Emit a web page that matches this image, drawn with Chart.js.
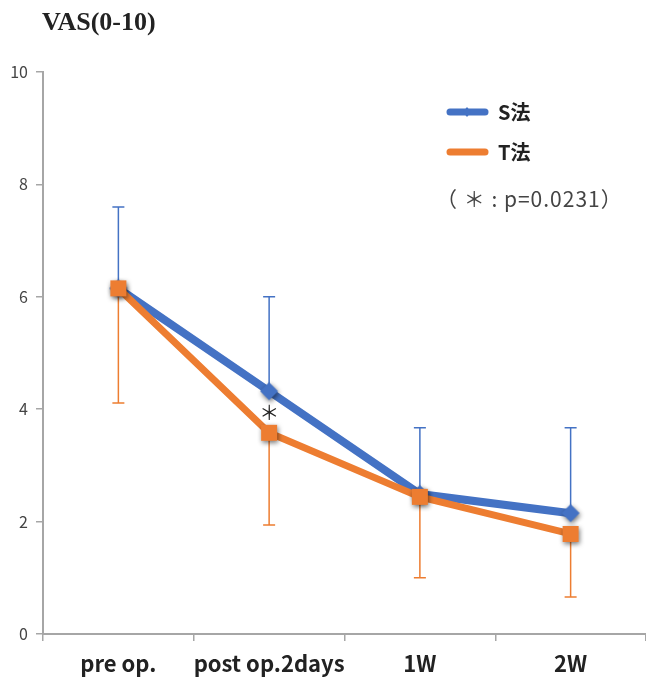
<!DOCTYPE html>
<html lang="ja">
<head>
  <meta charset="UTF-8">
  <title>VAS(0-10)</title>
  <script src="https://cdn.jsdelivr.net/npm/chart.js"></script>
  <style>
    html, body { margin: 0; padding: 0; background: #fff; overflow: hidden; }
    #wrap { width: 646px; height: 677px; position: relative; }
    canvas { display: block; }
  </style>
</head>
<body>
  <div id="wrap"><canvas id="vasChart"></canvas></div>
  <script>
    // データ
    const categories = ['pre op.', 'post op.2days', '1W', '2W'];
    const sValues = [6.15, 4.32, 2.49, 2.15];
    const tValues = [6.15, 3.58, 2.44, 1.78];
    const sUpper = [7.6, 6.0, 3.67, 3.67];   // S法 エラーバー上端
    const tLower = [4.11, 1.94, 1.0, 0.66];  // T法 エラーバー下端
    const seriesNames = ['S法', 'T法'];
    const noteText = '（ ＊ : p=0.0231）';
    const sigIndex = [1];
    const sigValue = [3.95];

    const blue = '#4472C4';
    const orange = '#ED7D31';

    // 影付きマーカー画像
    function makeMarker(shape, color) {
      const size = 34;
      const c = document.createElement('canvas');
      c.width = size; c.height = size;
      const g = c.getContext('2d');
      g.shadowColor = 'rgba(0,0,0,0.55)';
      g.shadowBlur = 5;
      g.shadowOffsetX = 1;
      g.shadowOffsetY = 2;
      g.fillStyle = color;
      const m = size / 2;
      if (shape === 'square') {
        g.fillRect(m - 8, m - 8, 16, 16);
      } else {
        g.beginPath();
        g.moveTo(m, m - 9); g.lineTo(m + 9, m); g.lineTo(m, m + 9); g.lineTo(m - 9, m);
        g.closePath(); g.fill();
      }
      return c;
    }

    // エラーバー・タイトル・凡例を描くプラグイン
    const extras = {
      id: 'extras',
      beforeDatasetsDraw(chart) {
        const ctx = chart.ctx;
        const x = chart.scales.x, y = chart.scales.y;
        const bars = [
          { mean: sValues, end: sUpper, color: blue },
          { mean: tValues, end: tLower, color: orange }
        ];
        ctx.save();
        bars.forEach(b => {
          ctx.strokeStyle = b.color;
          ctx.lineWidth = 1.5;
          b.mean.forEach((v, i) => {
            const px = x.getPixelForValue(i);
            const y0 = y.getPixelForValue(v);
            const y1 = y.getPixelForValue(b.end[i]);
            ctx.beginPath();
            ctx.moveTo(px, y0); ctx.lineTo(px, y1);
            ctx.moveTo(px - 6, y1); ctx.lineTo(px + 6, y1);
            ctx.stroke();
          });
        });
        ctx.restore();
      },
      afterDraw(chart) {
        const ctx = chart.ctx;
        const x = chart.scales.x, y = chart.scales.y;
        ctx.save();
        // タイトル
        ctx.fillStyle = '#222';
        ctx.font = 'bold 26px "Liberation Serif", "DejaVu Serif", serif';
        ctx.textBaseline = 'middle';
        ctx.fillText('VAS(0-10)', 42, 23);

        // 有意差マーク
        ctx.fillStyle = '#222';
        ctx.font = '20px "Noto Sans CJK JP", sans-serif';
        ctx.textAlign = 'center';
        sigIndex.forEach((idx, k) => {
          ctx.fillText('＊', x.getPixelForValue(idx), y.getPixelForValue(sigValue[k]));
        });

        // 凡例
        ctx.textAlign = 'left';
        const colors = [blue, orange];
        seriesNames.forEach((name, k) => {
          const ly = 112 + k * 40;
          ctx.strokeStyle = colors[k];
          ctx.lineWidth = 7;
          ctx.lineCap = 'round';
          ctx.beginPath();
          ctx.moveTo(450, ly); ctx.lineTo(485, ly);
          ctx.stroke();
          if (k === 0) {
            ctx.fillStyle = blue;
            ctx.beginPath();
            ctx.moveTo(467, ly - 5); ctx.lineTo(471, ly); ctx.lineTo(467, ly + 5); ctx.lineTo(463, ly);
            ctx.closePath(); ctx.fill();
          }
          ctx.fillStyle = '#222';
          ctx.font = 'bold 20px "Noto Sans CJK JP", sans-serif';
          ctx.fillText(name, 498, ly);
        });
        ctx.fillStyle = '#444';
        ctx.font = '21px "Noto Sans CJK JP", sans-serif';
        ctx.letterSpacing = '1px';
        ctx.fillText(noteText, 436, 199);
        ctx.restore();
      }
    };

    new Chart(document.getElementById('vasChart'), {
      type: 'line',
      data: {
        labels: categories,
        datasets: [
          {
            label: seriesNames[0],
            data: sValues,
            borderColor: blue,
            backgroundColor: blue,
            borderWidth: 8,
            pointStyle: makeMarker('diamond', blue),
            pointRadius: 9,
            tension: 0,
            order: 2
          },
          {
            label: seriesNames[1],
            data: tValues,
            borderColor: orange,
            backgroundColor: orange,
            borderWidth: 7,
            pointStyle: makeMarker('square', orange),
            pointRadius: 9,
            tension: 0,
            order: 1
          }
        ]
      },
      options: {
        responsive: true,
        maintainAspectRatio: false,
        animation: false,
        layout: { autoPadding: false, padding: { top: 72, right: 0, left: 0, bottom: 0 } },
        plugins: {
          legend: { display: false },
          title: { display: false },
          tooltip: { enabled: false }
        },
        scales: {
          x: {
            offset: true,
            grid: {
              offset: true,
              drawOnChartArea: false,
              drawTicks: true,
              tickLength: 7,
              color: '#A6A6A6',
              lineWidth: 1.5
            },
            border: { color: '#A6A6A6', width: 2 },
            ticks: {
              color: '#222',
              padding: 9,
              maxRotation: 0,
              minRotation: 0,
              autoSkip: false,
              font: { family: '"Noto Sans CJK JP", sans-serif', size: 22, weight: 'bold' }
            },
            afterFit(scale) {
              scale.height = 43;
              scale.paddingLeft = 0;
              scale.paddingRight = 0;
            }
          },
          y: {
            min: 0,
            max: 10,
            ticks: {
              stepSize: 2,
              color: '#444',
              padding: 8,
              font: { family: '"Noto Sans CJK JP", sans-serif', size: 16 }
            },
            grid: {
              drawOnChartArea: false,
              tickLength: 7,
              color: '#A6A6A6',
              lineWidth: 1.5
            },
            border: { color: '#A6A6A6', width: 2 },
            afterFit(scale) { scale.width = 43; }
          }
        }
      },
      plugins: [extras]
    });
  </script>
</body>
</html>
